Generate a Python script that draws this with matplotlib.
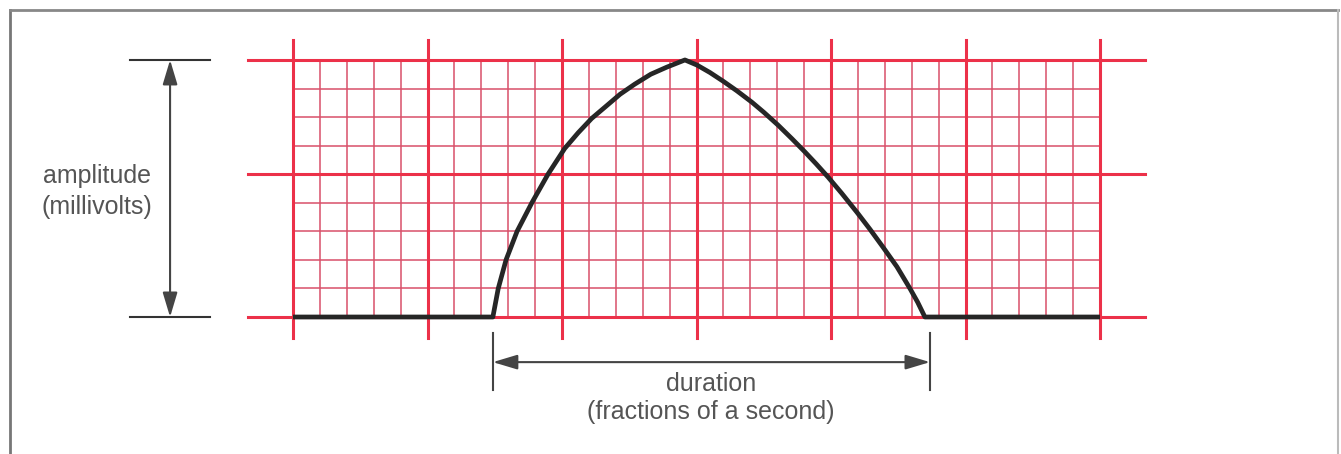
import numpy as np
import matplotlib.pyplot as plt
from matplotlib.lines import Line2D

# ECG-papier: kleine hokjes langs x (tijd) en y (spanning)
n_small_x = 30
n_small_y = 9
major_x = [0, 5, 10, 15, 20, 25, 30]
major_y = [0, 5, 9]

wave_x = [0, 7.43, 7.63, 7.92, 8.33, 8.88, 9.48, 10.1, 10.6, 11.1, 11.6, 12.16,
          12.7, 13.3, 13.9, 14.57,
          15.02, 15.5, 16.0, 16.5, 17.06, 17.5, 18.03, 18.55, 19.03, 19.45, 19.89,
          20.4, 20.97, 21.45, 21.93, 22.45, 22.94, 23.22, 23.49, 30]
wave_y = [0, 0, 1.0, 2.0, 3.0, 4.0, 5.0, 5.9, 6.45, 6.95, 7.35, 7.8,
          8.15, 8.5, 8.75, 9.0,
          8.82, 8.56, 8.25, 7.92, 7.52, 7.17, 6.72, 6.24, 5.78, 5.36, 4.9,
          4.33, 3.66, 3.07, 2.45, 1.76, 0.99, 0.52, 0, 0]

amp_label = "amplitude\n(millivolts)"
dur_label = "duration\n(fractions of a second)"
dur_start, dur_end = 7.43, 23.68

plt.rcParams['font.family'] = ['Liberation Sans', 'DejaVu Sans']

fig = plt.figure(figsize=(13.41, 4.54), dpi=100)
ax = fig.add_axes([0, 0, 1, 1])
# 1 hokje = 26.9 px breed en 28.56 px hoog, nulpunt op pixel (293, 317)
ax.set_xlim(-293 / 26.9, (1341 - 293) / 26.9)
ax.set_ylim((317 - 454) / 28.56, 317 / 28.56)
ax.axis('off')

minor_col = '#d9506a'
major_col = '#ec3149'

# kleine hokjes
for i in range(n_small_x + 1):
    if i not in major_x:
        ax.plot([i, i], [0, n_small_y], color=minor_col, lw=1.1, zorder=1)
for j in range(n_small_y + 1):
    if j not in major_y:
        ax.plot([0, n_small_x], [j, j], color=minor_col, lw=1.1, zorder=1)

# grote lijnen, steken iets uit
for i in major_x:
    ax.plot([i, i], [-0.72, 9.7], color=major_col, lw=2.2, zorder=2)
for j in major_y:
    ax.plot([-1.67, 31.67], [j, j], color=major_col, lw=2.2, zorder=2)

# de golf zelf
ax.plot(wave_x, wave_y, color='#262626', lw=3.4, solid_joinstyle='round',
        solid_capstyle='butt', zorder=5)

grey = '#444444'
arrow = dict(arrowstyle='<|-|>,head_length=1.0,head_width=0.3', color=grey,
             lw=1.5, mutation_scale=15, shrinkA=0, shrinkB=0)

# amplitude pijl
ax.annotate('', xy=(-4.57, 9), xytext=(-4.57, 0), arrowprops=arrow)
for v in major_y[::2]:
    ax.plot([-6.06, -3.09], [v, v], color='#333333', lw=1.5)
ax.text(-7.29, 4.4, amp_label, ha='center', va='center', fontsize=18,
        color='#555555', linespacing=1.35)

# duur pijl
ax.annotate('', xy=(dur_end, -1.58), xytext=(dur_start, -1.58), arrowprops=arrow)
for u in [dur_start, dur_end]:
    ax.plot([u, u], [-0.56, -2.56], color=grey, lw=1.5)
ax.text(15.54, -2.84, dur_label, ha='center', va='center', fontsize=18,
        color='#555555', linespacing=1.2)

# kader rond de afbeelding (onderkant valt weg)
fig.add_artist(Line2D([10 / 1341, 10 / 1341], [0, 1 - 10 / 454],
                      transform=fig.transFigure, color='#777777', lw=2))
fig.add_artist(Line2D([10 / 1341, 1338 / 1341], [1 - 10 / 454, 1 - 10 / 454],
                      transform=fig.transFigure, color='#888888', lw=2))
fig.add_artist(Line2D([1338 / 1341, 1338 / 1341], [0, 1 - 10 / 454],
                      transform=fig.transFigure, color='#bbbbbb', lw=1.5))

plt.savefig('out.png', dpi=100)
